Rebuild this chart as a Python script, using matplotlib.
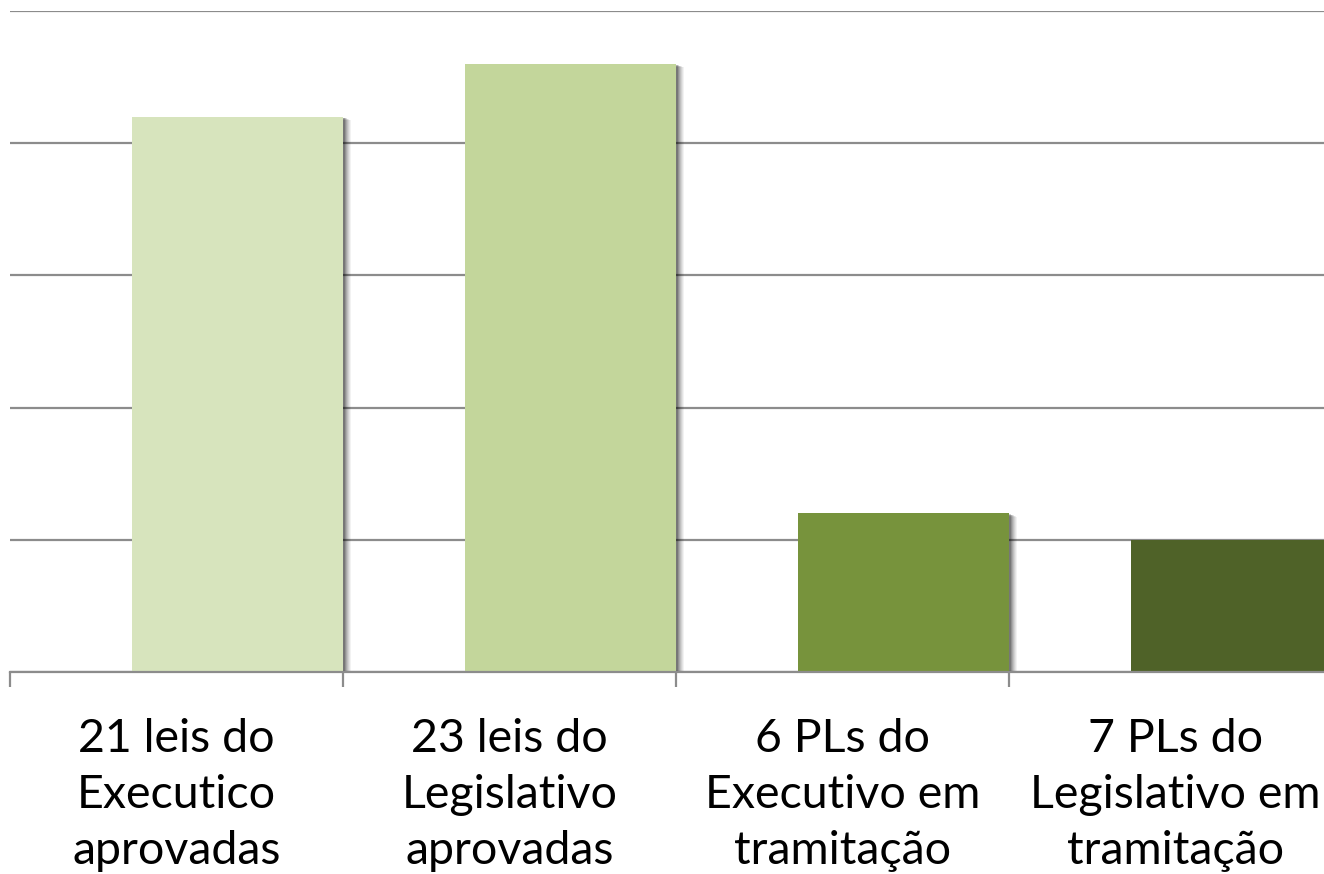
import matplotlib
matplotlib.use("Agg")
import matplotlib.pyplot as plt
import matplotlib.patheffects as pe
from matplotlib.ticker import FixedLocator, NullFormatter

categories = ["21 leis do\nExecutico\naprovadas",
              "23 leis do\nLegislativo\naprovadas",
              "6 PLs do\nExecutivo em\ntramitação",
              "7 PLs do\nLegislativo em\ntramitação"]
values = [21, 23, 6, 5]
colors = ["#D7E4BD", "#C3D69B", "#77933C", "#4F6228"]
yticks = [0, 5, 10, 15, 20, 25]

W, H = 1324, 874
fig = plt.figure(figsize=(W / 100, H / 100), dpi=100)
ax = fig.add_axes([10 / W, (H - 672) / H, 1332 / W, 661 / H])

x = list(range(len(values)))
bar_w = 211 / 333
bars = ax.bar([i + 0.5 for i in x], values, width=-bar_w, align="edge",
              color=colors, zorder=3)

shadow = []
for k, a in [(8, 0.05), (7, 0.06), (6, 0.07), (5, 0.09), (4, 0.11), (3, 0.14), (2, 0.18)]:
    shadow.append(pe.SimplePatchShadow(offset=(k * 0.72, -k * 0.3), shadow_rgbFace="black", alpha=a))
shadow.append(pe.Normal())
for b in bars:
    b.set_path_effects(shadow)

ax.set_xlim(-0.5, 3.5)
ax.set_ylim(0, 25)
ax.set_yticks(yticks)
ax.yaxis.grid(True, color="#8C8C8C", linewidth=1.6, zorder=0)
ax.set_axisbelow(True)
ax.tick_params(axis="y", left=False, labelleft=False)

for s in ["top", "right", "left"]:
    ax.spines[s].set_visible(False)
ax.spines["bottom"].set_color("#8C8C8C")
ax.spines["bottom"].set_linewidth(1.6)
ax.spines["bottom"].set_zorder(4)

ax.set_xticks(x)
ax.set_xticklabels(categories, fontsize=33.5, family=["Lato", "DejaVu Sans"],
                   linespacing=1.42, color="black")
ax.tick_params(axis="x", which="major", length=0, pad=33)
ax.xaxis.set_minor_locator(FixedLocator([-0.5, 0.5, 1.5, 2.5, 3.5]))
ax.xaxis.set_minor_formatter(NullFormatter())
ax.tick_params(axis="x", which="minor", length=11, width=1.6, color="#8C8C8C")

fig.savefig("out.png", dpi=100)
